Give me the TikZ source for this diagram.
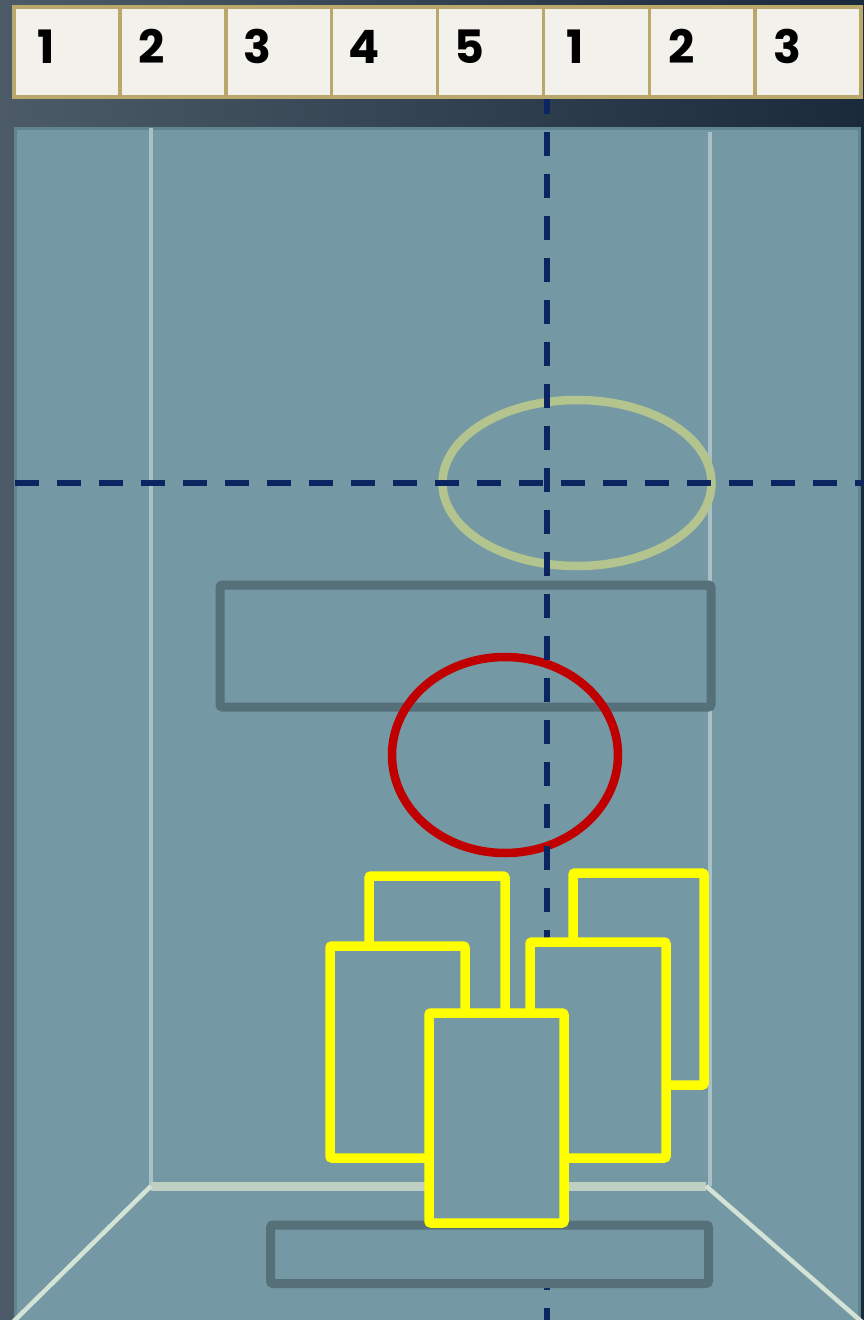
\documentclass[tikz,border=0pt]{standalone}
\usepackage{fontspec}
\newfontfamily\numfont{Poppins}
\usetikzlibrary{shapes.geometric}
\definecolor{bgL}{HTML}{4C5B67}
\definecolor{bgR}{HTML}{1A2A3B}
\definecolor{panel}{HTML}{7499A4}
\definecolor{panelborder}{HTML}{5F8591}
\definecolor{thinline}{HTML}{A8C0C6}
\definecolor{floorc}{HTML}{BFD0C3}
\definecolor{diagc}{HTML}{D5E2D6}
\definecolor{greyc}{HTML}{557079}
\definecolor{greenc}{HTML}{B3C48E}
\definecolor{redc}{HTML}{C00000}
\definecolor{navyc}{HTML}{0A2560}
\definecolor{yellowc}{HTML}{FFFF00}
\definecolor{cellfill}{HTML}{F2F1EC}
\definecolor{cellborder}{HTML}{BAA86A}
\tikzset{
  cell/.style={draw=cellborder, fill=cellfill, line width=3.5pt, minimum width=105.875pt, minimum height=90pt, inner sep=0pt},
  num/.style={font=\numfont\bfseries\fontsize{46}{46}\selectfont, text=black, inner sep=0pt},
  greybox/.style={draw=greyc, line width=9pt, rounded corners=2.5pt, inner sep=0pt},
  oval/.style={ellipse, line width=8.5pt, inner sep=0pt},
  navydash/.style={draw=navyc, line width=6.5pt, dash pattern=on 24pt off 18pt},
  ybox/.style={draw=yellowc, fill=panel, line width=9.5pt, rounded corners=2pt, inner sep=0pt},
}
\begin{document}
\begin{tikzpicture}[x=1pt,y=-1pt]
\useasboundingbox (0,0) rectangle (864,1320);
\clip (0,0) rectangle (864,1320);
\shade[left color=bgL, right color=bgR] (0,0) rectangle (864,1320);
% panel
\draw[fill=panel, draw=panelborder, line width=3pt] (15.5,128.5) rectangle (859.5,1330);
% room lines
\coordinate (tl) at (151,128);
\coordinate (tr) at (710,132);
\coordinate (bl) at (151,1186);
\coordinate (br) at (706,1186);
\coordinate (blc) at (151,1186);
\coordinate (brc) at (710,1186);
\coordinate (cl) at (13,1322);
\coordinate (cr) at (862,1322);
\draw[thinline, line width=3.5pt] (tl) -- (blc);
\draw[thinline, line width=3.5pt] (tr) -- (brc);
\draw[floorc, line width=9pt] (bl) -- (br);
\draw[diagc, line width=4.5pt] (bl) -- (cl);
\draw[diagc, line width=4.5pt] (br) -- (cr);
% grey top box
\node[greybox, minimum width=491pt, minimum height=122pt] (gtop) at (465.5,646) {};
% ellipses
\node[oval, draw=greenc, minimum width=269pt, minimum height=166pt] (green) at (577,483) {};
\node[oval, draw=redc, minimum width=226pt, minimum height=196pt] (red) at (505,755) {};
% dashed axes
\coordinate (vtop) at (547,97);
\coordinate (vbot) at (547,1322);
\coordinate (hl) at (14,483);
\coordinate (hr) at (864,483);
\draw[navydash, dash phase=7pt] (vtop) -- (vbot);
\draw[navydash, dash phase=41pt] (hl) -- (hr);
% bottom grey box
\node[greybox, fill=panel, minimum width=438pt, minimum height=58.5pt] (gbot) at (489.5,1254.25) {};
% yellow boxes
\node[ybox, minimum width=136pt, minimum height=212pt] (ya) at (437,982) {};
\node[ybox, minimum width=131pt, minimum height=212pt] (yb) at (638.5,979) {};
\node[ybox, minimum width=135pt, minimum height=212pt] (yc) at (397.5,1052) {};
\node[ybox, minimum width=136pt, minimum height=216pt] (yd) at (598,1050) {};
\node[ybox, minimum width=135pt, minimum height=210pt] (ye) at (496.5,1118) {};
% top bar
\foreach \i/\t in {1/1,2/2,3/3,4/4,5/5,6/1,7/2,8/3} {
  \node[cell] (c\i) at ({14+105.875*(\i-0.5)},52) {};
  \node[num, anchor=base] (n\i) at ({14+105.875*(\i-1)+32},63) {\t};
}
\end{tikzpicture}
\end{document}
